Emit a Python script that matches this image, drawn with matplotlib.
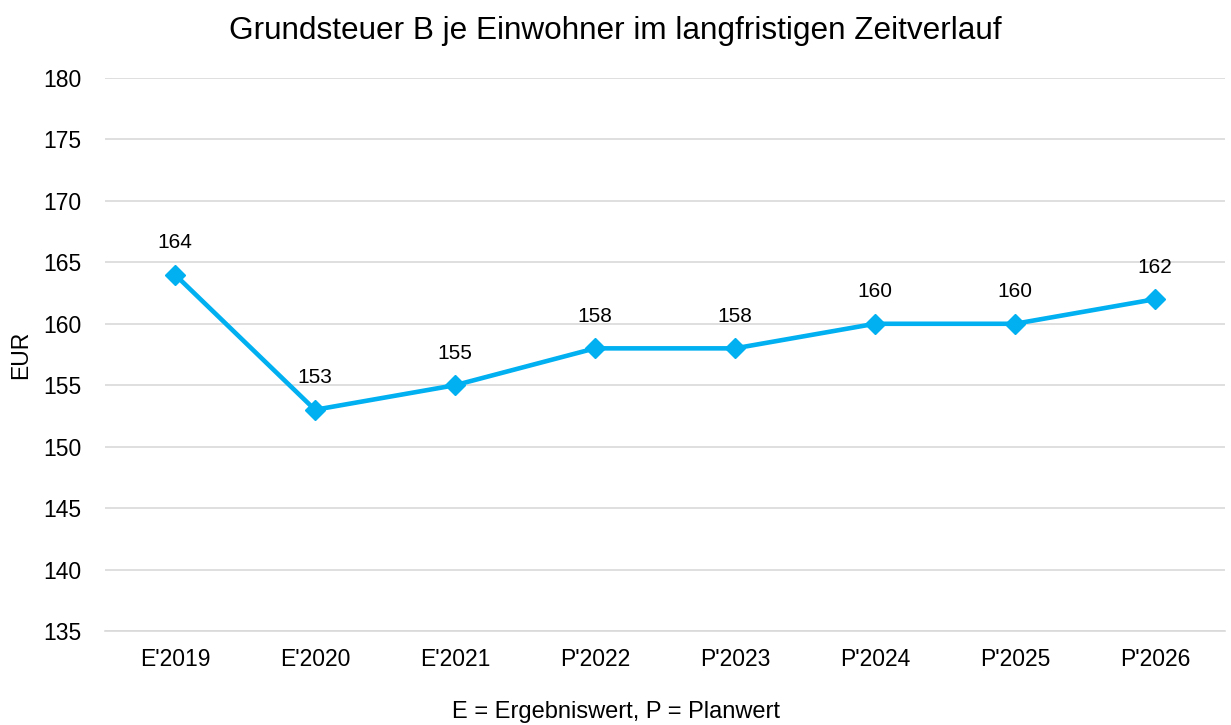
import matplotlib
matplotlib.use("Agg")
import matplotlib.pyplot as plt

categories = ["E'2019", "E'2020", "E'2021", "P'2022", "P'2023", "P'2024", "P'2025", "P'2026"]
values = [164, 153, 155, 158, 158, 160, 160, 162]
yticks = [135, 140, 145, 150, 155, 160, 165, 170, 175, 180]

plt.rcParams['font.family'] = ['Liberation Sans', 'DejaVu Sans']

fig = plt.figure(figsize=(12.31, 7.25), dpi=100)
ax = fig.add_axes([105/1231, 1-631/725, 1120/1231, (631-78)/725])

x = list(range(len(categories)))
ax.plot(x, values, color='#00B0F0', linewidth=3.3, marker='D', markersize=10, zorder=3)
for xi, v in zip(x, values):
    ax.annotate(str(v), (xi, v), xytext=(0, 23), textcoords='offset points',
                ha='center', va='center', fontsize=15, color='#000000')

ax.set_xlim(-0.5, len(categories) - 0.5)
ax.set_ylim(135, 180)
ax.set_yticks(yticks)
ax.set_xticks(x)
ax.set_xticklabels(categories)
ax.tick_params(axis='both', length=0, labelsize=16.5, colors='#000000')
ax.tick_params(axis='x', pad=12)
ax.tick_params(axis='y', pad=17)
ax.grid(axis='y', color='#D9D9D9', linewidth=1.2)
ax.set_axisbelow(True)
for s in ['top', 'right', 'left']:
    ax.spines[s].set_visible(False)
ax.spines['bottom'].set_color('#D9D9D9')
ax.spines['bottom'].set_linewidth(1.2)

ax.set_ylabel('EUR', fontsize=16.5, labelpad=8)
fig.text(0.5, 1-712/725, 'E = Ergebniswert, P = Planwert', fontsize=17, ha='center', va='center')
fig.suptitle('Grundsteuer B je Einwohner im langfristigen Zeitverlauf', fontsize=22.7, y=1-31/725, va='center')

fig.savefig('out.png', dpi=100)
